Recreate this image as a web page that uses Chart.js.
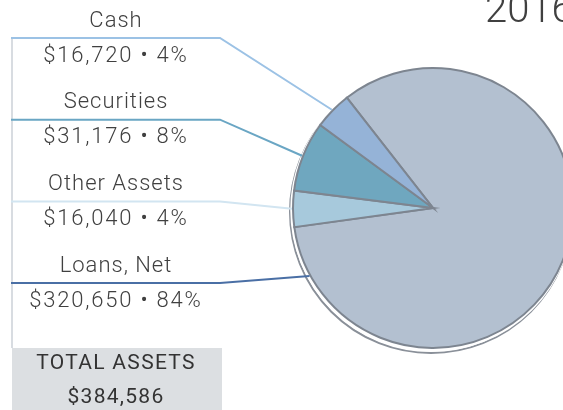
<!DOCTYPE html>
<html>
<head>
<meta charset="utf-8">
<script src="https://cdn.jsdelivr.net/npm/chart.js@4"></script>
<style>
html, body { margin: 0; padding: 0; background: #fff; overflow: hidden; width: 563px; height: 410px; }
canvas { display: block; }
</style>
</head>
<body>
<canvas id="assets" width="600" height="410"></canvas>
<script>
const categories = ['Cash', 'Securities', 'Other Assets', 'Loans, Net'];
const amounts = [16720, 31176, 16040, 320650];
const percents = [4, 8, 4, 84];
const sliceColors = ['#95b3d7', '#6fa7bf', '#a7c9dc', '#b3c0d0'];
const lineColors = ['#9cc2e5', '#6aa6c4', '#d2e5f1', '#4a6fa5'];
const anchorAt = [0.5, 0.5, 0.5, 0.93];
const yearLabel = '2016';
const totalLabel = 'TOTAL ASSETS';

// pie goes clockwise Loans -> Other -> Securities -> Cash
const pieData = amounts.slice().reverse();
const pieColors = sliceColors.slice().reverse();

const textColor = '#404040';
const labelFont = '300 22px Roboto, "Liberation Sans", sans-serif';

const fmt = (v) => '$' + v.toLocaleString('en-US');

const shadowRing = {
    id: 'shadowRing',
    beforeDatasetsDraw(chart) {
        const arc = chart.getDatasetMeta(0).data[0];
        const {x, y, outerRadius} = arc.getProps(['x', 'y', 'outerRadius'], true);
        const ctx = chart.ctx;
        ctx.save();
        ctx.beginPath();
        ctx.arc(x - 2, y + 4, outerRadius + 1, 0, Math.PI * 2);
        ctx.strokeStyle = '#8a9099';
        ctx.lineWidth = 2;
        ctx.stroke();
        ctx.beginPath();
        ctx.arc(x - 1, y + 2, outerRadius + 1, 0, Math.PI * 2);
        ctx.strokeStyle = '#ffffff';
        ctx.lineWidth = 1.5;
        ctx.stroke();
        ctx.restore();
    }
};

const sideLabels = {
    id: 'sideLabels',
    afterDraw(chart) {
        const ctx = chart.ctx;
        const arcs = chart.getDatasetMeta(0).data;
        const cx = 116;
        const rowGap = 81.7;
        ctx.save();

        // left rule
        ctx.strokeStyle = '#d8dce1';
        ctx.lineWidth = 2;
        ctx.beginPath();
        ctx.moveTo(12, 38);
        ctx.lineTo(12, 348);
        ctx.stroke();

        categories.forEach((name, i) => {
            const arc = arcs[categories.length - 1 - i];
            const p = arc.getProps(['x', 'y', 'startAngle', 'endAngle', 'outerRadius'], true);
            const a = p.startAngle + (p.endAngle - p.startAngle) * anchorAt[i];
            const ax = p.x + (p.outerRadius + 1) * Math.cos(a);
            const ay = p.y + (p.outerRadius + 1) * Math.sin(a);
            const ly = 38 + i * rowGap;

            ctx.strokeStyle = lineColors[i];
            ctx.lineWidth = 2;
            ctx.beginPath();
            ctx.moveTo(11, ly);
            ctx.lineTo(220, ly);
            ctx.lineTo(ax, ay);
            ctx.stroke();

            ctx.fillStyle = textColor;
            ctx.font = labelFont;
            ctx.letterSpacing = '1px';
            ctx.textAlign = 'center';
            ctx.textBaseline = 'middle';
            ctx.fillText(name, cx, ly - 17);
            ctx.letterSpacing = '1.8px';
            ctx.fillText(fmt(amounts[i]) + ' \u2022 ' + percents[i] + '%', cx, ly + 18);
        });

        // total box
        const total = amounts.reduce((s, v) => s + v, 0);
        ctx.fillStyle = '#dcdfe2';
        ctx.fillRect(12, 348, 210, 62);
        ctx.fillStyle = '#333333';
        ctx.font = '400 21px Roboto, "Liberation Sans", sans-serif';
        ctx.letterSpacing = '1.3px';
        ctx.fillText(totalLabel, cx, 364);
        ctx.fillText(fmt(total), cx, 398);

        // year title, clipped by the window edge
        ctx.fillStyle = textColor;
        ctx.font = '300 40px Roboto, "Liberation Sans", sans-serif';
        ctx.letterSpacing = '0px';
        ctx.textAlign = 'left';
        ctx.textBaseline = 'alphabetic';
        ctx.fillText(yearLabel, 485, 22);
        ctx.restore();
    }
};

const assetsPie = new Chart(
    document.getElementById('assets'),
    {
        type: 'pie',
        data: {
            labels: categories.slice().reverse(),
            datasets: [{
                data: pieData,
                backgroundColor: pieColors,
                borderColor: '#7d8590',
                borderWidth: 2,
                borderJoinStyle: 'miter'
            }]
        },
        options: {
            responsive: false,
            animation: false,
            rotation: -38,
            radius: 140,
            layout: {
                padding: { left: 293, right: 27, top: 68, bottom: 62 }
            },
            plugins: {
                legend: { display: false },
                tooltip: { enabled: false }
            }
        },
        plugins: [shadowRing, sideLabels]
    }
)
</script>
</body>
</html>
